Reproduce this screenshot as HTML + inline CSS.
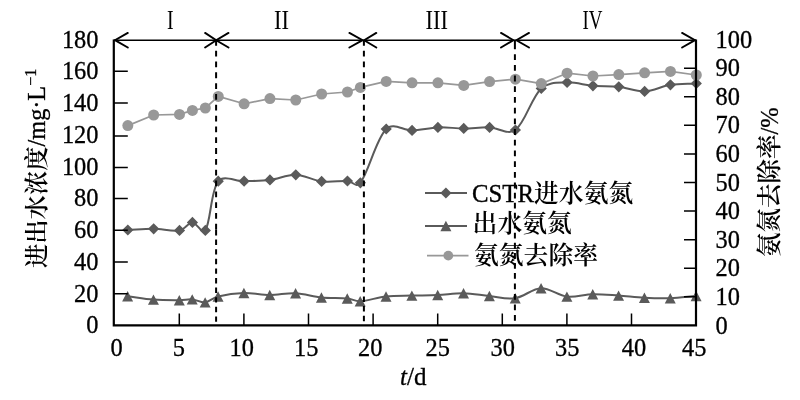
<!DOCTYPE html>
<html lang="zh"><head><meta charset="utf-8"><title>CSTR 氨氮去除率</title>
<style>html,body{margin:0;padding:0;background:#fff}svg{display:block;will-change:transform}text{font-family:'Liberation Serif','Noto Serif CJK SC',serif;fill:#000}.n{stroke:#000;stroke-width:0.3px}</style>
</head><body>
<svg width="800" height="400" viewBox="0 0 800 400">
<rect width="800" height="400" fill="#fff"/>
<path d="M127.82,230C136.43,229.6 145.05,228.73 153.66,228.8C162.28,228.87 172.2,231.61 179.5,230.4C185.12,229.47 188.11,222.4 192.42,222.4C196.73,222.4 202.2,235.41 205.34,230.4C210.81,221.68 210.75,190.74 218.26,181.2C223.67,174.34 235.49,181.42 244.1,181.2C252.72,180.98 261.37,180.96 269.94,179.9C278.59,178.83 287.19,174.55 295.78,174.8C304.42,175.05 312.94,180.36 321.62,181.4C330.17,182.43 339.94,180.73 347.46,181C352.86,181.19 355.99,188.69 360.38,182.8C368.91,171.35 375.91,139.46 386.22,129C393.13,121.99 403.46,130.67 412.06,130.4C420.68,130.13 429.27,127.73 437.9,127.4C446.5,127.07 455.13,128.4 463.74,128.4C472.35,128.4 480.98,127.13 489.58,127.4C498.2,127.67 508.13,135.5 515.42,130C525.36,122.5 531.37,97.51 541.26,88.4C548.59,81.65 558.45,82.84 567.1,82.4C575.68,81.97 584.31,85.07 592.94,85.8C601.54,86.53 610.2,85.87 618.78,86.8C627.43,87.74 636.04,91.73 644.62,91.4C653.27,91.07 661.78,86.14 670.46,84.8C679.01,83.48 687.69,83.87 696.3,83.4" fill="none" stroke="#5a5a5a" stroke-width="2" stroke-linejoin="round"/>
<path d="M127.82,224.4l5.6,5.6l-5.6,5.6l-5.6,-5.6zM153.66,223.2l5.6,5.6l-5.6,5.6l-5.6,-5.6zM179.5,224.8l5.6,5.6l-5.6,5.6l-5.6,-5.6zM192.42,216.8l5.6,5.6l-5.6,5.6l-5.6,-5.6zM205.34,224.8l5.6,5.6l-5.6,5.6l-5.6,-5.6zM218.26,175.6l5.6,5.6l-5.6,5.6l-5.6,-5.6zM244.1,175.6l5.6,5.6l-5.6,5.6l-5.6,-5.6zM269.94,174.3l5.6,5.6l-5.6,5.6l-5.6,-5.6zM295.78,169.2l5.6,5.6l-5.6,5.6l-5.6,-5.6zM321.62,175.8l5.6,5.6l-5.6,5.6l-5.6,-5.6zM347.46,175.4l5.6,5.6l-5.6,5.6l-5.6,-5.6zM360.38,177.2l5.6,5.6l-5.6,5.6l-5.6,-5.6zM386.22,123.4l5.6,5.6l-5.6,5.6l-5.6,-5.6zM412.06,124.8l5.6,5.6l-5.6,5.6l-5.6,-5.6zM437.9,121.8l5.6,5.6l-5.6,5.6l-5.6,-5.6zM463.74,122.8l5.6,5.6l-5.6,5.6l-5.6,-5.6zM489.58,121.8l5.6,5.6l-5.6,5.6l-5.6,-5.6zM515.42,124.4l5.6,5.6l-5.6,5.6l-5.6,-5.6zM541.26,82.8l5.6,5.6l-5.6,5.6l-5.6,-5.6zM567.1,76.8l5.6,5.6l-5.6,5.6l-5.6,-5.6zM592.94,80.2l5.6,5.6l-5.6,5.6l-5.6,-5.6zM618.78,81.2l5.6,5.6l-5.6,5.6l-5.6,-5.6zM644.62,85.8l5.6,5.6l-5.6,5.6l-5.6,-5.6zM670.46,79.2l5.6,5.6l-5.6,5.6l-5.6,-5.6zM696.3,77.8l5.6,5.6l-5.6,5.6l-5.6,-5.6z" fill="#5a5a5a"/>
<path d="M127.62,296.2C136.23,297.33 144.83,298.93 153.46,299.6C162.06,300.27 171.77,300.24 179.3,300.2C184.69,300.17 187.94,299.04 192.22,299.4C196.55,299.77 200.91,302.88 205.14,302.4C209.52,301.91 212.55,297.84 218.06,296.5C225.47,294.7 235.27,293.25 243.9,293C252.5,292.75 261.13,294.97 269.74,295C278.35,295.03 286.99,292.78 295.58,293.2C304.22,293.62 312.78,296.61 321.42,297.5C330.01,298.38 339.75,297.78 347.26,298.5C352.67,299.02 354.79,301.48 360.18,301.2C367.71,300.81 377.37,297.44 386.02,296.5C394.6,295.57 403.25,295.85 411.86,295.6C420.47,295.35 429.09,295.4 437.7,295C446.32,294.6 454.93,293.03 463.54,293.2C472.16,293.37 480.76,295.17 489.38,296C497.99,296.83 506.75,299.48 515.22,298.2C523.98,296.88 532.4,288.47 541.06,288.2C549.63,287.93 558.19,295.59 566.9,296.6C575.41,297.59 584.12,294.37 592.74,294.2C601.35,294.03 609.97,295 618.58,295.6C627.2,296.2 635.8,297.37 644.42,297.8C653.03,298.23 661.65,298.5 670.26,298.2C678.88,297.9 687.49,296.73 696.1,296" fill="none" stroke="#5a5a5a" stroke-width="2" stroke-linejoin="round"/>
<path d="M127.62,291l5.5,10.4h-11zM153.46,294.4l5.5,10.4h-11zM179.3,295l5.5,10.4h-11zM192.22,294.2l5.5,10.4h-11zM205.14,297.2l5.5,10.4h-11zM218.06,291.3l5.5,10.4h-11zM243.9,287.8l5.5,10.4h-11zM269.74,289.8l5.5,10.4h-11zM295.58,288l5.5,10.4h-11zM321.42,292.3l5.5,10.4h-11zM347.26,293.3l5.5,10.4h-11zM360.18,296l5.5,10.4h-11zM386.02,291.3l5.5,10.4h-11zM411.86,290.4l5.5,10.4h-11zM437.7,289.8l5.5,10.4h-11zM463.54,288l5.5,10.4h-11zM489.38,290.8l5.5,10.4h-11zM515.22,293l5.5,10.4h-11zM541.06,283l5.5,10.4h-11zM566.9,291.4l5.5,10.4h-11zM592.74,289l5.5,10.4h-11zM618.58,290.4l5.5,10.4h-11zM644.42,292.6l5.5,10.4h-11zM670.26,293l5.5,10.4h-11zM696.1,290.8l5.5,10.4h-11z" fill="#5a5a5a"/>
<path d="M127.82,125.6L153.66,115L179.5,114.4L192.42,110.4L205.34,108L218.26,96.4L244.1,103.8L269.94,98.6L295.78,100L321.62,94L347.46,92L360.38,87.4L386.22,81.4L412.06,82.8L437.9,82.8L463.74,85.4L489.58,81.6L515.42,79.2L541.26,83.6L567.1,73.2L592.94,76L618.78,74.6L644.62,72.8L670.46,71.4L696.3,75" fill="none" stroke="#989898" stroke-width="1.7" stroke-linejoin="round"/>
<g fill="#989898">
<circle cx="127.82" cy="125.6" r="5.5"/>
<circle cx="153.66" cy="115" r="5.5"/>
<circle cx="179.5" cy="114.4" r="5.5"/>
<circle cx="192.42" cy="110.4" r="5.5"/>
<circle cx="205.34" cy="108" r="5.5"/>
<circle cx="218.26" cy="96.4" r="5.5"/>
<circle cx="244.1" cy="103.8" r="5.5"/>
<circle cx="269.94" cy="98.6" r="5.5"/>
<circle cx="295.78" cy="100" r="5.5"/>
<circle cx="321.62" cy="94" r="5.5"/>
<circle cx="347.46" cy="92" r="5.5"/>
<circle cx="360.38" cy="87.4" r="5.5"/>
<circle cx="386.22" cy="81.4" r="5.5"/>
<circle cx="412.06" cy="82.8" r="5.5"/>
<circle cx="437.9" cy="82.8" r="5.5"/>
<circle cx="463.74" cy="85.4" r="5.5"/>
<circle cx="489.58" cy="81.6" r="5.5"/>
<circle cx="515.42" cy="79.2" r="5.5"/>
<circle cx="541.26" cy="83.6" r="5.5"/>
<circle cx="567.1" cy="73.2" r="5.5"/>
<circle cx="592.94" cy="76" r="5.5"/>
<circle cx="618.78" cy="74.6" r="5.5"/>
<circle cx="644.62" cy="72.8" r="5.5"/>
<circle cx="670.46" cy="71.4" r="5.5"/>
<circle cx="696.3" cy="75" r="5.5"/>
</g>
<g stroke="#000" fill="none" stroke-linecap="butt">
<path d="M113.8,39.6 V325.4 H696 V39.6" stroke-width="2.2" stroke-linejoin="miter"/>
<path d="M113.8,40.2 H696" stroke-width="1.6"/>
<path d="M113.8,293.64 h14M113.8,261.89 h14M113.8,230.13 h14M113.8,198.38 h14M113.8,167.62 h14M113.8,136.07 h14M113.8,103.11 h14M113.8,71.36 h14M696,296.82 h-12M696,268.24 h-12M696,239.66 h-12M696,211.08 h-12M696,182.5 h-12M696,153.92 h-12M696,125.34 h-12M696,96.76 h-12M696,68.18 h-12M179.3,325.4 v-12M243.9,325.4 v-12M308.5,325.4 v-12M373.1,325.4 v-12M437.7,325.4 v-12M502.3,325.4 v-12M566.9,325.4 v-12M631.5,325.4 v-12" stroke-width="1.5"/>
<path d="M127.8,32.9 L115,40.2 L127.8,47.5M205.1,32.9 L216.2,40.2 L205.1,47.5M228.5,32.9 L216.2,40.2 L228.5,47.5M349.4,32.9 L362.6,40.2 L349.4,47.5M376.3,32.9 L364.2,40.2 L376.3,47.5M501,32.9 L513.4,40.2 L501,47.5M529,32.9 L516.4,40.2 L529,47.5M682.1,32.9 L695,40.2 L682.1,47.5" stroke-width="1.9" stroke-linejoin="miter" stroke-linecap="round"/>
</g>
<path d="M216.1,39.9v5.8M216.1,50.72v5.8M216.1,61.54v5.8M216.1,72.36v5.8M216.1,83.18v5.8M216.1,94v5.8M216.1,104.82v5.8M216.1,115.64v5.8M216.1,126.46v5.8M216.1,137.28v5.8M216.1,148.1v5.8M216.1,158.92v5.8M216.1,169.74v5.8M216.1,180.56v5.8M216.1,191.38v5.8M216.1,202.2v5.8M216.1,213.02v5.8M216.1,223.84v5.8M216.1,230v5.4M216.1,239.6v5.4M216.1,249.2v5.4M216.1,258.8v5.4M216.1,268.4v5.4M216.1,278v5.4M216.1,287.6v5.4M216.1,297.2v5.4M216.1,306.8v5.4M216.1,316.4v5.4M363.9,39.9v5.8M363.9,50.72v5.8M363.9,61.54v5.8M363.9,72.36v5.8M363.9,83.18v5.8M363.9,94v5.8M363.9,104.82v5.8M363.9,115.64v5.8M363.9,126.46v5.8M363.9,137.28v5.8M363.9,148.1v5.8M363.9,158.92v5.8M363.9,169.74v5.8M363.9,180.56v5.8M363.9,191.38v5.8M363.9,202.2v5.8M363.9,213.02v5.8M363.9,223.84v5.8M363.9,229v5.4M363.9,238.64v5.4M363.9,248.28v5.4M363.9,257.92v5.4M363.9,267.56v5.4M363.9,277.2v5.4M363.9,286.84v5.4M363.9,296.48v5.4M363.9,306.12v5.4M363.9,315.76v5.4M514.9,43.5v5.8M514.9,54.2v5.8M514.9,64.9v5.8M514.9,75.6v5.8M514.9,86.3v5.8M514.9,97v5.8M514.9,107.7v5.8M514.9,118.4v5.8M514.9,129.1v5.8M514.9,139.8v5.8M514.9,150.5v5.8M514.9,161.2v5.8M514.9,171.9v5.8M514.9,182.6v5.8M514.9,192.64v5.8M514.9,202.68v5.8M514.9,212.72v5.8M514.9,222.76v5.8M514.9,232.8v5.8M514.9,242.84v5.8M514.9,252.88v5.8M514.9,262.92v5.8M514.9,273v5.8M514.9,283.5v5.8M514.9,294v5.8M514.9,304.5v5.8M514.9,315v5.8M514.9,40.5V46" stroke="#000" stroke-width="2" fill="none"/>
<path d="M425,193 H467" stroke="#5a5a5a" stroke-width="2" fill="none"/>
<path d="M445.9,187.4l5.6,5.6l-5.6,5.6l-5.6,-5.6z" fill="#5a5a5a"/>
<text x="472" y="201.7" font-size="24.8" font-weight="400"><tspan stroke='#000' stroke-width='0.35'>CSTR</tspan><tspan font-weight='600'>进水氨氮</tspan></text>
<path d="M425,226 H467" stroke="#5a5a5a" stroke-width="2" fill="none"/>
<path d="M445.9,220.8l5.5,10.4h-11z" fill="#5a5a5a"/>
<text x="472.6" y="232.2" font-size="24.8" font-weight="600">出水氨氮</text>
<path d="M427,255.6 H468.5" stroke="#989898" stroke-width="1.7" fill="none"/>
<circle cx="448.3" cy="255.6" r="4.9" fill="#989898"/>
<text x="474" y="264.1" font-size="24.8" font-weight="600">氨氮去除率</text>
<text class="n" x="98.5" y="333.4" font-size="24.4" text-anchor="end">0</text>
<text class="n" x="98.5" y="301.64" font-size="24.4" text-anchor="end">20</text>
<text class="n" x="98.5" y="269.89" font-size="24.4" text-anchor="end">40</text>
<text class="n" x="98.5" y="238.13" font-size="24.4" text-anchor="end">60</text>
<text class="n" x="98.5" y="206.38" font-size="24.4" text-anchor="end">80</text>
<text class="n" x="98.5" y="174.62" font-size="24.4" text-anchor="end">100</text>
<text class="n" x="98.5" y="142.87" font-size="24.4" text-anchor="end">120</text>
<text class="n" x="98.5" y="111.11" font-size="24.4" text-anchor="end">140</text>
<text class="n" x="98.5" y="79.36" font-size="24.4" text-anchor="end">160</text>
<text class="n" x="98.5" y="47.6" font-size="24.4" text-anchor="end">180</text>
<text class="n" x="715.5" y="333.5" font-size="24.4">0</text>
<text class="n" x="715.5" y="304.92" font-size="24.4">10</text>
<text class="n" x="715.5" y="276.34" font-size="24.4">20</text>
<text class="n" x="715.5" y="247.76" font-size="24.4">30</text>
<text class="n" x="715.5" y="219.18" font-size="24.4">40</text>
<text class="n" x="715.5" y="190.6" font-size="24.4">50</text>
<text class="n" x="715.5" y="162.02" font-size="24.4">60</text>
<text class="n" x="715.5" y="133.44" font-size="24.4">70</text>
<text class="n" x="715.5" y="104.86" font-size="24.4">80</text>
<text class="n" x="715.5" y="76.28" font-size="24.4">90</text>
<text class="n" x="715.5" y="47.7" font-size="24.4">100</text>
<text class="n" x="116.5" y="355.6" font-size="24.4" text-anchor="middle">0</text>
<text class="n" x="178.8" y="355.6" font-size="24.4" text-anchor="middle">5</text>
<text class="n" x="241.7" y="355.6" font-size="24.4" text-anchor="middle">10</text>
<text class="n" x="306.2" y="355.6" font-size="24.4" text-anchor="middle">15</text>
<text class="n" x="370.2" y="355.6" font-size="24.4" text-anchor="middle">20</text>
<text class="n" x="437.7" y="355.6" font-size="24.4" text-anchor="middle">25</text>
<text class="n" x="502.7" y="355.6" font-size="24.4" text-anchor="middle">30</text>
<text class="n" x="567.3" y="355.6" font-size="24.4" text-anchor="middle">35</text>
<text class="n" x="634" y="355.6" font-size="24.4" text-anchor="middle">40</text>
<text class="n" x="694.3" y="355.6" font-size="24.4" text-anchor="middle">45</text>
<text class="n" x="400" y="385.2" font-size="25"><tspan font-style="italic">t</tspan>/d</text>
<text x="170.3" y="29" font-size="28" text-anchor="middle" textLength="6.6" lengthAdjust="spacingAndGlyphs">I</text>
<text x="281.5" y="29" font-size="28" text-anchor="middle" textLength="15" lengthAdjust="spacingAndGlyphs">II</text>
<text x="436.8" y="29" font-size="28" text-anchor="middle" textLength="22.5" lengthAdjust="spacingAndGlyphs">III</text>
<text x="592.5" y="29" font-size="28" text-anchor="middle" textLength="20" lengthAdjust="spacingAndGlyphs">IV</text>
<text transform="translate(45,268) rotate(-90)" font-size="24.3"><tspan font-weight="600">进出水浓度</tspan><tspan class="n">/mg·L<tspan font-size="16" dy="-9">−1</tspan></tspan></text>
<text transform="translate(778,257) rotate(-90)" font-size="24.5"><tspan font-weight="600">氨氮去除率</tspan><tspan class="n">/%</tspan></text>
</svg>
</body></html>
